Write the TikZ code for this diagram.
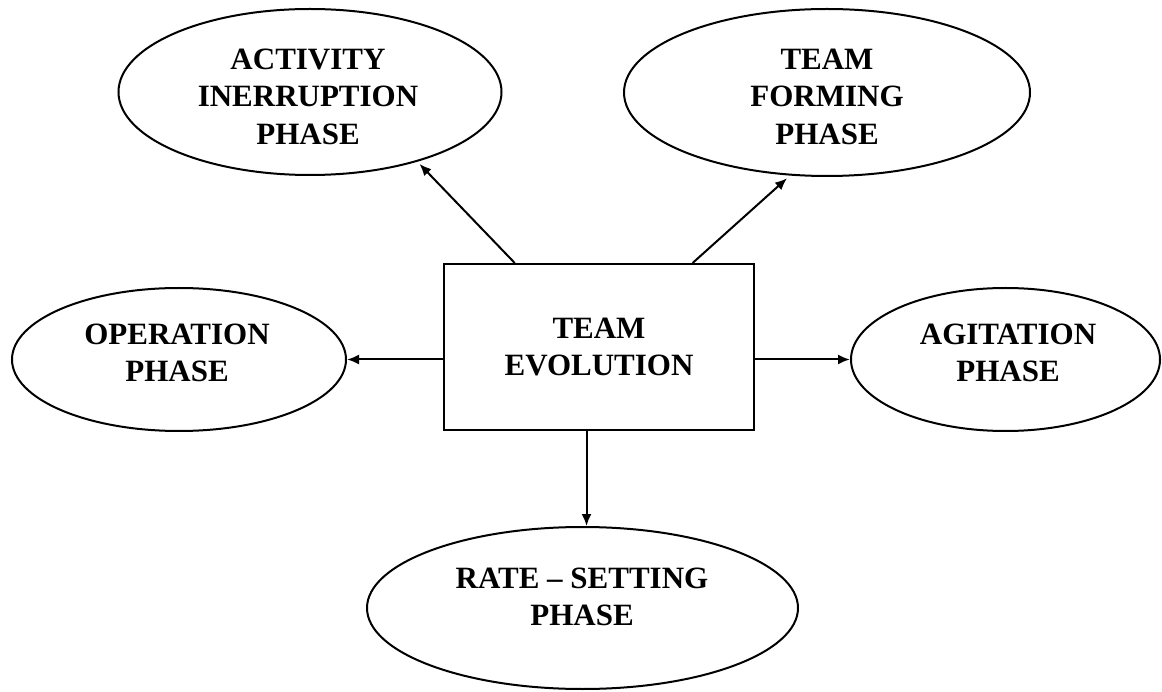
\documentclass[tikz,border=0pt]{standalone}
\usepackage{fontspec}
\setmainfont{Liberation Serif}
\usetikzlibrary{shapes.geometric,arrows.meta,calc}

\begin{document}
\begin{tikzpicture}[x=1pt,y=-1pt]
    \tikzset{phase/.style={draw,ellipse,line width=2pt,inner sep=0pt}}
    \tikzset{phasetext/.style={inner sep=0pt,align=center,font=\fontsize{31}{37.5}\selectfont\bfseries}}
    \tikzset{centre/.style={draw,rectangle,line width=2pt,inner sep=0pt,align=center,minimum width=310pt,minimum height=166pt,font=\fontsize{31}{37.5}\selectfont\bfseries}}
    \tikzset{link/.style={line width=2pt,-{Latex[length=12pt,width=10pt]}}}
    \useasboundingbox (0,0) rectangle (1162,692);
    \node[centre] (evo) at (599,347) {TEAM\\EVOLUTION};
    \node[phase,minimum width=383pt,minimum height=166pt] (act) at (310,92) {};
    \node[phasetext] (act-t) at (308,96.5) {ACTIVITY\\INERRUPTION\\PHASE};
    \node[phase,minimum width=406pt,minimum height=167pt] (form) at (827,92.5) {};
    \node[phasetext] (form-t) at (827,96.5) {TEAM\\FORMING\\PHASE};
    \node[phase,minimum width=334pt,minimum height=143pt] (oper) at (179,359.5) {};
    \node[phasetext] (oper-t) at (177,353) {OPERATION\\PHASE};
    \node[phase,minimum width=309pt,minimum height=143pt] (agit) at (1005.5,359.5) {};
    \node[phasetext] (agit-t) at (1008,353) {AGITATION\\PHASE};
    \node[phase,minimum width=431pt,minimum height=162pt] (rate) at (582.5,608) {};
    \node[phasetext] (rate-t) at (582,597) {RATE -- SETTING\\PHASE};
    \draw[link,shorten >=3pt] ($(evo.north west)!0.23!(evo.north east)$) -- (act.-33);
    \draw[link,shorten >=4pt] ($(evo.north west)!0.80!(evo.north east)$) -- (form.-114);
    \draw[link] (evo.west |- oper.east) -- (oper.east);
    \draw[link] (evo.east |- agit.west) -- (agit.west);
    \draw[link] ($(evo.south west)!0.46!(evo.south east)$) coordinate (evos) -- (evos |- rate.north);
\end{tikzpicture}
\end{document}
